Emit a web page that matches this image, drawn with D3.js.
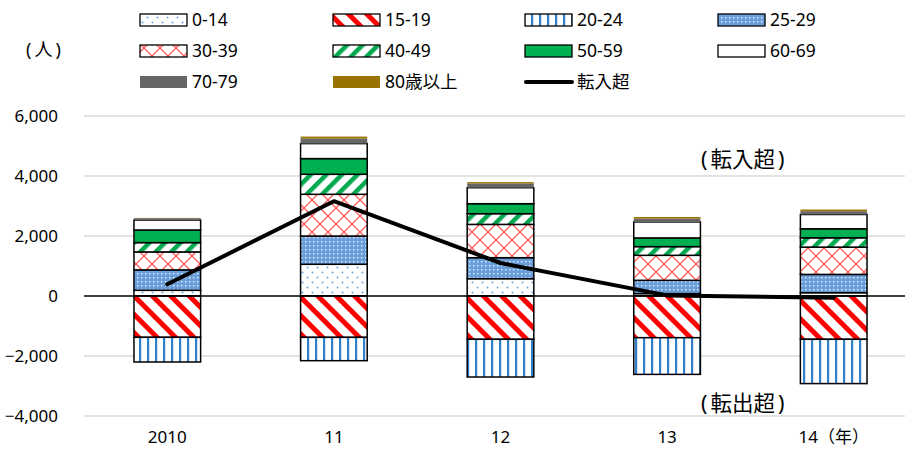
<!DOCTYPE html>
<html>
<head>
<meta charset="utf-8">
<script src="https://cdn.jsdelivr.net/npm/d3@7"></script>
<style>
  body { margin: 0; background: #fff; }
  svg text { font-family: "Noto Sans", "Noto Sans CJK JP", sans-serif; fill: #000; }
</style>
</head>
<body>
<svg id="chart" width="905" height="457"></svg>
<script>
let years = ["2010", "11", "12", "13", "14（年）"];
let ageGroups = ["0-14", "15-19", "20-24", "25-29", "30-39", "40-49", "50-59", "60-69", "70-79", "80歳以上"];

// values per age group (people)
let v0_14  = [190, 1057, 577, 80, 110];
let v15_19 = [-1377, -1378, -1443, -1390, -1443];
let v20_24 = [-823, -778, -1257, -1223, -1477];
let v25_29 = [680, 943, 700, 443, 610];
let v30_39 = [600, 1390, 1110, 833, 910];
let v40_49 = [310, 667, 357, 290, 310];
let v50_59 = [420, 523, 333, 290, 300];
let v60_69 = [333, 500, 533, 533, 477];
let v70_79 = [60, 167, 143, 110, 110];
let v80up  = [10, 67, 43, 55, 55];
let netIn  = [390, 3160, 1100, 20, -60];

let yTicks = [-4000, -2000, 0, 2000, 4000, 6000];

let seriesValues = [v0_14, v15_19, v20_24, v25_29, v30_39, v40_49, v50_59, v60_69, v70_79, v80up];

let svg = d3.select("#chart");
let defs = svg.append("defs");

// ---- fill patterns ----
function makePattern(id, w, h, rotate) {
  let p = defs.append("pattern")
    .attr("id", id)
    .attr("patternUnits", "userSpaceOnUse")
    .attr("width", w)
    .attr("height", h);
  if (rotate) p.attr("patternTransform", "rotate(" + rotate + ")");
  p.append("rect").attr("width", w).attr("height", h).attr("fill", "#fff");
  return p;
}

let p0 = makePattern("p0_14", 10, 10);
p0.append("circle").attr("cx", 2.5).attr("cy", 2.5).attr("r", 1).attr("fill", "#6fa6de");
p0.append("circle").attr("cx", 7.5).attr("cy", 7.5).attr("r", 1).attr("fill", "#6fa6de");

let p1 = makePattern("p15_19", 13, 13, -45);
p1.append("rect").attr("x", 0).attr("width", 5).attr("height", 13).attr("fill", "#ff0000");

let p2 = makePattern("p20_24", 8, 8);
p2.append("rect").attr("x", 3).attr("width", 2.2).attr("height", 8).attr("fill", "#2f80cc");

let p3 = makePattern("p25_29", 4, 4);
p3.select("rect").attr("fill", "#6a9fdb");
p3.append("rect").attr("x", 1).attr("y", 1).attr("width", 1.4).attr("height", 1.4).attr("fill", "#e8f1fb");

let p4 = makePattern("p30_39", 16, 16);
p4.append("path").attr("d", "M0,0 L16,16 M16,0 L0,16").attr("stroke", "#ff5a5a").attr("stroke-width", 1.3);

let p5 = makePattern("p40_49", 11, 11, 45);
p5.append("rect").attr("x", 0).attr("width", 4.5).attr("height", 11).attr("fill", "#00a84f");

let fills = ["url(#p0_14)", "url(#p15_19)", "url(#p20_24)", "url(#p25_29)", "url(#p30_39)",
  "url(#p40_49)", "#00b050", "#ffffff", "#666666", "#997300"];
let bordered = [true, true, true, true, true, true, true, true, false, false];

// ---- scales ----
let x = d3.scaleBand().domain(years).range([84, 917]).paddingInner(0.6).paddingOuter(0.3);
let y = d3.scaleLinear().domain([-4000, 6000]).range([416, 116]);

// gridlines
svg.append("g").selectAll("line")
  .data(yTicks.filter(d => d !== 0))
  .join("line")
  .attr("x1", 84).attr("x2", 905)
  .attr("y1", d => y(d)).attr("y2", d => y(d))
  .attr("stroke", "#d9d9d9").attr("stroke-width", 1.3);

// y axis labels
let yAxis = svg.append("g")
  .attr("transform", "translate(58,0)")
  .call(d3.axisLeft(y).tickValues(yTicks).tickSize(0).tickPadding(0).tickFormat(d3.format(",")));
yAxis.select(".domain").remove();
yAxis.selectAll("text").attr("font-size", 17).style("font-family", '"Noto Sans", sans-serif');

// x axis labels
let xAxis = svg.append("g")
  .attr("transform", "translate(0,428)")
  .call(d3.axisBottom(x).tickSize(0).tickPadding(0));
xAxis.select(".domain").remove();
xAxis.selectAll("text").attr("font-size", 17).attr("dy", "0.9em").style("font-family", '"Noto Sans", "Noto Sans CJK JP", sans-serif');

// ---- stacked bars ----
let table = years.map((yr, i) => {
  let row = { year: yr };
  ageGroups.forEach((g, k) => { row[g] = seriesValues[k][i]; });
  return row;
});
let stack = d3.stack().keys(ageGroups).offset(d3.stackOffsetDiverging);
let layers = stack(table);

let barG = svg.append("g");
layers.forEach((layer, k) => {
  barG.append("g").selectAll("rect")
    .data(layer)
    .join("rect")
    .attr("x", d => x(d.data.year))
    .attr("width", x.bandwidth())
    .attr("y", d => y(Math.max(d[0], d[1])))
    .attr("height", d => Math.abs(y(d[0]) - y(d[1])))
    .attr("fill", fills[k])
    .attr("stroke", bordered[k] ? "#000" : "none")
    .attr("stroke-width", 1.5);
});

// zero line
svg.append("line")
  .attr("x1", 84).attr("x2", 905)
  .attr("y1", y(0)).attr("y2", y(0))
  .attr("stroke", "#000").attr("stroke-width", 1.3);

// net in-migration line
let line = d3.line()
  .x((d, i) => x(years[i]) + x.bandwidth() / 2)
  .y(d => y(d));
svg.append("path")
  .datum(netIn)
  .attr("d", line)
  .attr("fill", "none")
  .attr("stroke", "#000")
  .attr("stroke-width", 4)
  .attr("stroke-linecap", "round")
  .attr("stroke-linejoin", "round");

// ---- annotations ----
function bracketLabel(x0, y0, size, word) {
  let t = svg.append("text").attr("x", x0).attr("y", y0).attr("font-size", size);
  t.append("tspan").text("(");
  t.append("tspan").attr("dx", 3).text(word);
  t.append("tspan").attr("dx", 3).text(")");
}
bracketLabel(26, 56, 18, "人");
bracketLabel(701, 167, 21.5, "転入超");
bracketLabel(701, 411, 21.5, "転出超");

// ---- legend ----
let legendCols = [140, 333, 525, 718];
let legendRows = [20, 51, 82];
let legendItems = ageGroups.map((g, k) => ({ label: g, fill: fills[k], border: bordered[k] }));
legendItems.push({ label: "転入超", line: true });

let lg = svg.append("g");
legendItems.forEach((item, i) => {
  let cx = legendCols[i % 4], cy = legendRows[Math.floor(i / 4)];
  if (item.line) {
    lg.append("line")
      .attr("x1", cx + 1).attr("x2", cx + 47)
      .attr("y1", cy).attr("y2", cy)
      .attr("stroke", "#000").attr("stroke-width", 4).attr("stroke-linecap", "round");
  } else {
    lg.append("rect")
      .attr("x", cx).attr("y", cy - 6)
      .attr("width", 47).attr("height", 12)
      .attr("fill", item.fill)
      .attr("stroke", item.border ? "#000" : "none")
      .attr("stroke-width", 1.3);
  }
  lg.append("text")
    .attr("x", cx + 52).attr("y", cy)
    .attr("dy", "0.36em")
    .attr("font-size", 17.5)
    .text(item.label);
});
</script>
</body>
</html>
